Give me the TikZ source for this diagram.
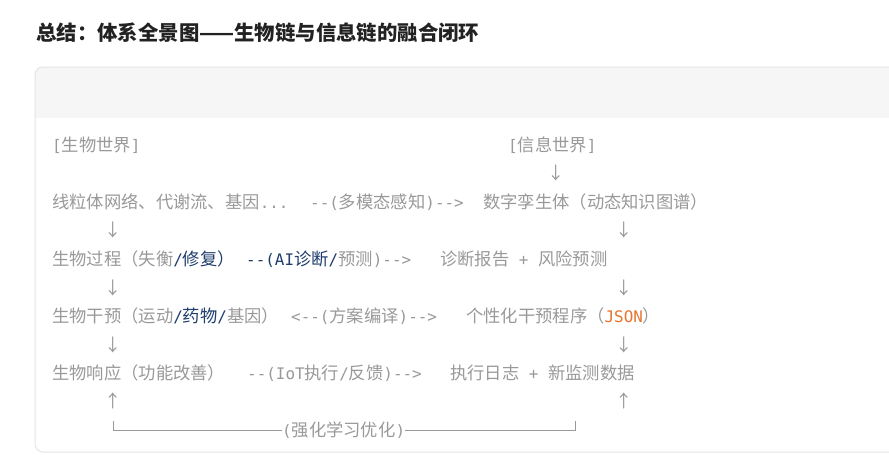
\documentclass[tikz,border=0pt]{standalone}
\usepackage{fontspec}
\setmainfont{Noto Sans CJK SC}
\newfontfamily\monof{DejaVu Sans Mono}[Scale=0.92]
\newcommand{\m}[1]{{\monof #1}}
\definecolor{txtgray}{HTML}{999999}
\definecolor{codeblue}{HTML}{1F3D6E}
\definecolor{codeorange}{HTML}{E8742C}
\definecolor{titleblack}{HTML}{222222}
\definecolor{cardborder}{HTML}{E5E5E5}
\definecolor{headfill}{HTML}{F6F6F6}
\tikzset{
  code/.style={anchor=west, inner sep=0pt, font=\fontsize{17.3}{20}\selectfont,
    text=txtgray, text height=15.2pt, text depth=2.1pt},
  glyph/.style={anchor=center, inner sep=0pt, font=\fontsize{17.3}{20}\selectfont, text=txtgray},
  titletext/.style={anchor=west, inner sep=0pt, font=\fontsize{20.4}{24}\selectfont\bfseries, text=titleblack},
  loopline/.style={draw=txtgray, line width=1pt},
}
\begin{document}
\begin{tikzpicture}[x=1pt,y=-1pt]
\useasboundingbox (0,0) rectangle (889,455);
\fill[white] (0,0) rectangle (889,455);
% card
\begin{scope}
  \clip (0,0) rectangle (889,455);
  \begin{scope}
    \clip[rounded corners=8pt] (35,67) rectangle (910,452);
    \fill[white] (35,67) rectangle (910,452);
    \fill[headfill] (35,67) rectangle (910,118);
  \end{scope}
  \draw[cardborder, line width=1pt, rounded corners=8pt] (35,67) rectangle (910,452);
\end{scope}
% title
\node[titletext] (title) at (36,33) {总结：体系全景图——生物链与信息链的融合闭环};
% row 0
\node[code] (bioworld) at (52,145) {\m{[}生物世界\m{]}};
\node[code] (infoworld) at (508,145) {\m{[}信息世界\m{]}};
\node[glyph] (a0) at (556,173) {↓};
% row 1
\node[code] (mito) at (52,202) {线粒体网络、代谢流、基因\m{...}};
\node[code] (sense) at (310,202) {\m{-{}-(}多模态感知\m{)-{}->}};
\node[code] (twin) at (483,202) {数字孪生体（动态知识图谱）};
\node[glyph] (a1) at (113,230) {↓};
\node[glyph] (a2) at (624,230) {↓};
% row 2
\node[code] (process) at (52,259) {生物过程（失衡\textcolor{codeblue}{\m{/}修复）}};
\node[code] (diag) at (246,259) {\textcolor{codeblue}{\m{-{}-(AI}诊断\m{/}}预测\m{)-{}->}};
\node[code] (report) at (440,259) {诊断报告\m{~+~}风险预测};
\node[glyph] (a3) at (113,287.5) {↓};
\node[glyph] (a4) at (624,287.5) {↓};
% row 3
\node[code] (interv) at (52,316) {生物干预（运动\textcolor{codeblue}{\m{/}药物\m{/}}基因）};
\node[code] (compile) at (291,316) {\m{<-{}-(}方案编译\m{)-{}->}};
\node[code] (program) at (466,316) {个性化干预程序（\textcolor{codeorange}{\m{JSON}}）};
\node[glyph] (a5) at (113,344.5) {↓};
\node[glyph] (a6) at (624,344.5) {↓};
% row 4
\node[code] (response) at (52,373) {生物响应（功能改善）};
\node[code] (iot) at (247,373) {\m{-{}-(IoT}执行\m{/}反馈\m{)-{}->}};
\node[code] (log) at (450,373) {执行日志\m{~+~}新监测数据};
\node[glyph] (a7) at (113,401) {↑};
\node[glyph] (a8) at (624,401) {↑};
% loop
\node[code] (rl) at (282,430) {\m{(}强化学习优化\m{)}};
\coordinate (lc) at (113,421);
\coordinate (rc) at (575,421);
\draw[loopline] (lc) |- (rl.west);
\draw[loopline] (rl.east) -| (rc);
\end{tikzpicture}
\end{document}
